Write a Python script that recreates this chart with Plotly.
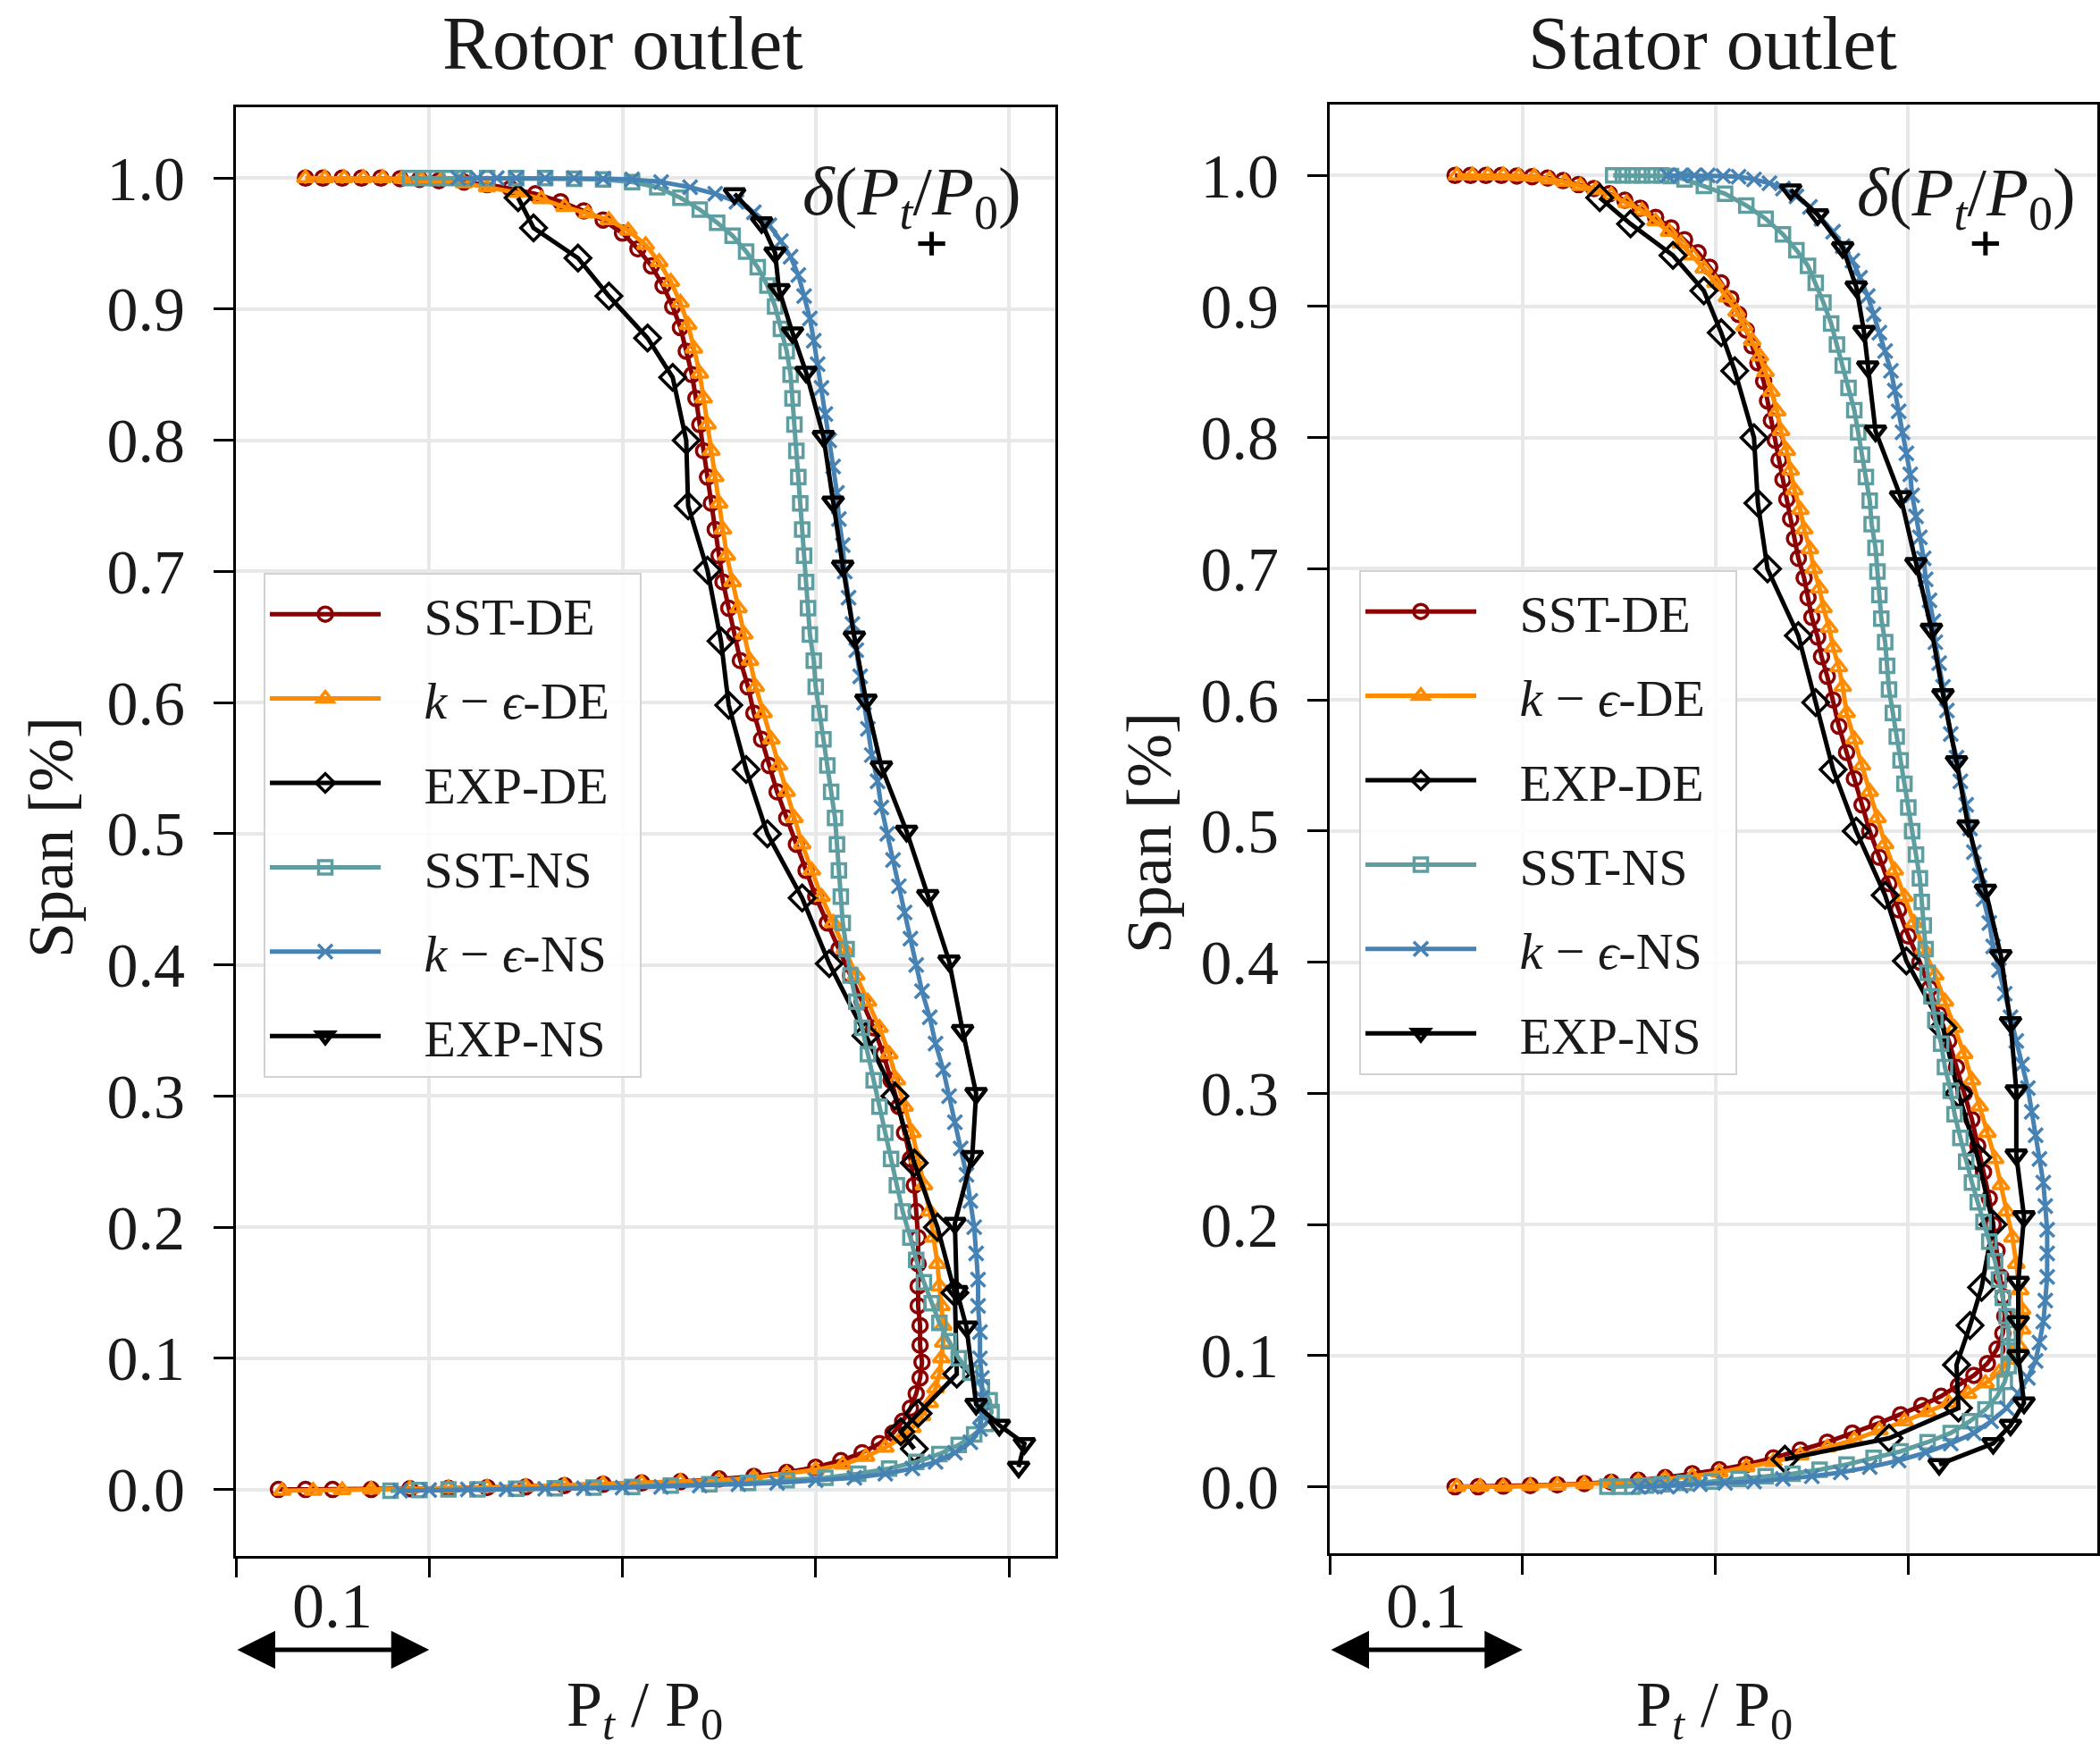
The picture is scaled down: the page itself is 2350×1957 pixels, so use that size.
import plotly.graph_objects as go

# ---------------- data (x = P_t/P_0 relative offset, y = span) ----------------
rotor_sst_de_x = [0.036,0.045,0.055,0.065,0.075,0.085,0.095,0.105,0.118,0.130,0.142,0.155,0.168,0.180,0.190,0.200,0.208,0.215,0.221,0.226,0.230,0.233,0.236,0.238,0.240,0.242,0.244,0.246,0.248,0.250,0.252,0.255,0.258,0.261,0.265,0.268,0.272,0.276,0.280,0.285,0.290,0.295,0.300,0.306,0.312,0.318,0.324,0.330,0.335,0.339,0.343,0.346,0.349,0.351,0.352,0.353,0.353,0.353,0.353,0.354,0.354,0.355,0.354,0.352,0.349,0.345,0.340,0.333,0.324,0.313,0.300,0.285,0.268,0.250,0.230,0.210,0.190,0.170,0.150,0.130,0.110,0.090,0.070,0.050,0.036,0.022]
rotor_sst_de_y = [1.000,1.000,1.000,1.000,1.000,0.9995,0.999,0.998,0.997,0.995,0.992,0.988,0.982,0.975,0.968,0.958,0.946,0.933,0.918,0.902,0.886,0.868,0.850,0.832,0.812,0.792,0.772,0.752,0.732,0.712,0.692,0.672,0.652,0.632,0.612,0.592,0.572,0.552,0.532,0.512,0.492,0.472,0.452,0.432,0.412,0.392,0.372,0.352,0.332,0.312,0.292,0.272,0.252,0.232,0.212,0.192,0.172,0.155,0.140,0.125,0.110,0.097,0.085,0.073,0.062,0.052,0.043,0.035,0.028,0.022,0.017,0.013,0.010,0.008,0.006,0.005,0.004,0.003,0.002,0.0015,0.001,0.0005,0.0,0.0,0.0,0.0]

rotor_ke_de_x = [0.036,0.046,0.056,0.066,0.076,0.086,0.096,0.106,0.118,0.130,0.145,0.158,0.170,0.182,0.193,0.203,0.212,0.219,0.225,0.230,0.234,0.237,0.240,0.242,0.244,0.246,0.248,0.250,0.252,0.254,0.257,0.260,0.263,0.266,0.269,0.273,0.277,0.281,0.285,0.289,0.293,0.298,0.303,0.309,0.315,0.321,0.327,0.333,0.338,0.342,0.346,0.350,0.353,0.356,0.359,0.361,0.363,0.364,0.365,0.366,0.366,0.365,0.364,0.362,0.359,0.355,0.350,0.344,0.336,0.326,0.314,0.300,0.285,0.268,0.250,0.230,0.210,0.190,0.170,0.150,0.130,0.110,0.090,0.070,0.055,0.040,0.024]
rotor_ke_de_y = [1.0,1.0,1.0,1.0,1.0,0.9995,0.999,0.998,0.996,0.993,0.989,0.984,0.978,0.973,0.968,0.960,0.949,0.936,0.921,0.905,0.888,0.870,0.851,0.832,0.812,0.792,0.772,0.752,0.732,0.712,0.692,0.672,0.652,0.632,0.612,0.592,0.572,0.552,0.532,0.512,0.492,0.472,0.452,0.432,0.412,0.392,0.372,0.352,0.332,0.312,0.292,0.272,0.252,0.232,0.212,0.192,0.172,0.155,0.140,0.125,0.112,0.100,0.088,0.077,0.066,0.056,0.047,0.039,0.032,0.025,0.019,0.015,0.012,0.009,0.007,0.006,0.005,0.004,0.003,0.002,0.0015,0.001,0.0005,0.0,-0.0005,-0.001,-0.001]

rotor_exp_de_x = [0.146,0.154,0.177,0.193,0.213,0.226,0.233,0.234,0.244,0.251,0.255,0.264,0.275,0.293,0.307,0.326,0.341,0.351,0.363,0.372,0.373,0.353,0.344,0.351]
rotor_exp_de_y = [0.985,0.962,0.939,0.910,0.878,0.848,0.800,0.750,0.701,0.647,0.598,0.549,0.500,0.451,0.401,0.346,0.300,0.249,0.200,0.150,0.088,0.058,0.044,0.031]

rotor_sst_ns_x = [0.090,0.097,0.104,0.111,0.118,0.130,0.145,0.160,0.175,0.190,0.205,0.218,0.230,0.240,0.249,0.257,0.264,0.270,0.275,0.279,0.282,0.285,0.287,0.288,0.289,0.290,0.291,0.292,0.293,0.294,0.295,0.296,0.297,0.299,0.300,0.302,0.304,0.306,0.308,0.310,0.311,0.312,0.313,0.314,0.316,0.318,0.321,0.324,0.327,0.330,0.333,0.336,0.339,0.342,0.345,0.349,0.352,0.356,0.360,0.364,0.369,0.374,0.380,0.386,0.390,0.391,0.388,0.382,0.374,0.364,0.352,0.338,0.322,0.305,0.285,0.265,0.245,0.225,0.205,0.185,0.165,0.145,0.125,0.110,0.095,0.080]
rotor_sst_ns_y = [1.0,1.0,1.0,1.0,1.0,1.0,1.0,1.0,0.9995,0.999,0.997,0.993,0.985,0.976,0.966,0.956,0.944,0.932,0.918,0.902,0.885,0.868,0.850,0.832,0.812,0.792,0.772,0.752,0.732,0.712,0.692,0.672,0.652,0.632,0.612,0.592,0.572,0.552,0.532,0.512,0.492,0.472,0.452,0.432,0.412,0.392,0.372,0.352,0.332,0.312,0.292,0.272,0.252,0.232,0.212,0.192,0.175,0.158,0.142,0.127,0.113,0.100,0.089,0.078,0.068,0.059,0.050,0.042,0.034,0.027,0.021,0.016,0.012,0.009,0.007,0.005,0.004,0.003,0.002,0.0015,0.001,0.0005,0.0,0.0,-0.0005,-0.001]

rotor_ke_ns_x = [0.115,0.125,0.135,0.145,0.160,0.175,0.190,0.205,0.220,0.235,0.248,0.259,0.268,0.276,0.282,0.287,0.291,0.294,0.297,0.299,0.301,0.303,0.305,0.307,0.309,0.311,0.312,0.314,0.315,0.317,0.319,0.321,0.323,0.325,0.327,0.329,0.332,0.334,0.337,0.340,0.343,0.346,0.349,0.352,0.355,0.359,0.362,0.366,0.369,0.372,0.375,0.378,0.380,0.382,0.383,0.384,0.384,0.385,0.385,0.386,0.386,0.386,0.385,0.380,0.372,0.362,0.350,0.336,0.320,0.300,0.280,0.260,0.240,0.220,0.200,0.180,0.160,0.140,0.120,0.100,0.085]
rotor_ke_ns_y = [1.0,1.0,1.0,1.0,1.0,1.0,0.9995,0.999,0.997,0.993,0.988,0.982,0.974,0.964,0.952,0.940,0.926,0.910,0.893,0.876,0.858,0.840,0.820,0.800,0.780,0.760,0.740,0.720,0.700,0.680,0.660,0.640,0.620,0.600,0.580,0.560,0.540,0.520,0.500,0.480,0.460,0.440,0.420,0.400,0.380,0.360,0.340,0.320,0.300,0.280,0.260,0.240,0.220,0.200,0.180,0.160,0.140,0.120,0.100,0.085,0.070,0.057,0.046,0.036,0.028,0.021,0.016,0.012,0.009,0.007,0.005,0.004,0.003,0.002,0.0015,0.001,0.0005,0.0,0.0,-0.0005,-0.001]

rotor_exp_ns_x = [0.258,0.272,0.279,0.281,0.288,0.295,0.304,0.309,0.314,0.320,0.326,0.334,0.347,0.358,0.369,0.376,0.383,0.381,0.372,0.373,0.378,0.383,0.395,0.408,0.405]
rotor_exp_ns_y = [0.988,0.966,0.943,0.915,0.882,0.852,0.803,0.753,0.704,0.650,0.602,0.551,0.502,0.453,0.403,0.350,0.302,0.254,0.203,0.151,0.124,0.065,0.049,0.035,0.017]

stator_sst_de_x = [0.065,0.073,0.081,0.089,0.097,0.105,0.113,0.121,0.129,0.137,0.145,0.153,0.161,0.169,0.177,0.184,0.191,0.197,0.203,0.208,0.212,0.216,0.219,0.222,0.225,0.227,0.229,0.231,0.233,0.235,0.237,0.239,0.241,0.243,0.246,0.248,0.250,0.253,0.255,0.258,0.261,0.264,0.268,0.272,0.276,0.280,0.285,0.290,0.295,0.300,0.306,0.311,0.316,0.321,0.325,0.329,0.333,0.336,0.339,0.342,0.344,0.346,0.348,0.349,0.350,0.349,0.346,0.341,0.334,0.326,0.317,0.307,0.296,0.284,0.271,0.258,0.244,0.230,0.216,0.202,0.188,0.174,0.160,0.146,0.132,0.118,0.104,0.090,0.077,0.065]
stator_sst_de_y = [1.0,1.0,1.0,1.0,0.9995,0.999,0.998,0.996,0.993,0.990,0.986,0.981,0.975,0.968,0.960,0.951,0.941,0.930,0.918,0.906,0.894,0.882,0.870,0.857,0.843,0.828,0.813,0.798,0.783,0.768,0.753,0.738,0.723,0.708,0.693,0.678,0.663,0.648,0.633,0.618,0.600,0.580,0.560,0.540,0.520,0.500,0.480,0.460,0.440,0.420,0.400,0.380,0.360,0.340,0.320,0.300,0.280,0.260,0.240,0.220,0.200,0.180,0.160,0.145,0.130,0.117,0.105,0.094,0.085,0.077,0.069,0.062,0.055,0.048,0.041,0.034,0.028,0.022,0.017,0.013,0.010,0.007,0.005,0.0035,0.0025,0.0015,0.001,0.0005,0.0,0.0]

stator_ke_de_x = [0.066,0.074,0.082,0.090,0.098,0.106,0.114,0.122,0.130,0.138,0.146,0.154,0.162,0.169,0.176,0.182,0.188,0.194,0.200,0.206,0.211,0.215,0.219,0.223,0.226,0.229,0.232,0.234,0.237,0.239,0.241,0.244,0.246,0.249,0.251,0.254,0.256,0.259,0.261,0.264,0.266,0.268,0.272,0.276,0.280,0.284,0.288,0.293,0.298,0.303,0.308,0.314,0.319,0.324,0.329,0.333,0.337,0.341,0.345,0.348,0.351,0.354,0.356,0.358,0.359,0.359,0.357,0.353,0.347,0.340,0.331,0.321,0.310,0.298,0.285,0.272,0.258,0.244,0.230,0.216,0.202,0.188,0.174,0.160,0.146,0.132,0.118,0.104,0.090,0.078,0.066]
stator_ke_de_y = [1.0,1.0,1.0,1.0,0.9995,0.999,0.997,0.995,0.992,0.989,0.985,0.979,0.973,0.965,0.957,0.948,0.939,0.929,0.918,0.907,0.896,0.885,0.874,0.862,0.850,0.835,0.820,0.805,0.790,0.775,0.760,0.745,0.730,0.715,0.700,0.685,0.670,0.655,0.640,0.625,0.610,0.590,0.570,0.550,0.530,0.510,0.490,0.470,0.450,0.430,0.410,0.390,0.370,0.350,0.330,0.310,0.290,0.270,0.250,0.230,0.210,0.190,0.170,0.150,0.135,0.120,0.108,0.097,0.087,0.079,0.071,0.064,0.057,0.050,0.043,0.036,0.030,0.024,0.019,0.015,0.011,0.008,0.006,0.004,0.003,0.002,0.001,0.0005,0.0,0.0,0.0]

stator_exp_de_x = [0.140,0.156,0.178,0.194,0.203,0.210,0.220,0.222,0.227,0.243,0.252,0.261,0.273,0.288,0.299,0.318,0.326,0.336,0.344,0.338,0.332,0.325,0.326,0.290,0.236]
stator_exp_de_y = [0.983,0.963,0.939,0.912,0.880,0.851,0.800,0.750,0.700,0.649,0.598,0.547,0.500,0.451,0.401,0.350,0.300,0.251,0.200,0.152,0.123,0.093,0.060,0.037,0.021]

stator_sst_ns_x = [0.147,0.152,0.157,0.162,0.167,0.172,0.177,0.184,0.194,0.205,0.216,0.226,0.235,0.242,0.248,0.252,0.256,0.260,0.263,0.266,0.269,0.272,0.274,0.276,0.278,0.280,0.281,0.283,0.284,0.285,0.286,0.288,0.289,0.290,0.292,0.294,0.296,0.298,0.300,0.302,0.304,0.306,0.307,0.308,0.309,0.310,0.312,0.314,0.317,0.319,0.322,0.324,0.327,0.330,0.333,0.336,0.339,0.342,0.345,0.347,0.349,0.351,0.352,0.352,0.352,0.350,0.346,0.340,0.332,0.322,0.310,0.296,0.282,0.268,0.254,0.240,0.226,0.212,0.198,0.184,0.172,0.164,0.157,0.150,0.144]
stator_sst_ns_y = [1.0,1.0,1.0,1.0,1.0,1.0,0.9995,0.997,0.992,0.986,0.977,0.967,0.955,0.943,0.931,0.918,0.903,0.887,0.871,0.855,0.838,0.821,0.804,0.787,0.770,0.752,0.734,0.716,0.698,0.680,0.662,0.644,0.626,0.608,0.590,0.572,0.554,0.536,0.518,0.500,0.482,0.464,0.446,0.428,0.410,0.392,0.374,0.356,0.338,0.320,0.302,0.284,0.266,0.248,0.232,0.217,0.202,0.187,0.172,0.158,0.144,0.130,0.117,0.104,0.092,0.080,0.069,0.059,0.050,0.041,0.034,0.027,0.022,0.017,0.013,0.010,0.008,0.006,0.004,0.003,0.002,0.001,0.0,0.0,0.0]

stator_ke_ns_x = [0.175,0.182,0.189,0.196,0.204,0.212,0.220,0.228,0.235,0.242,0.249,0.255,0.261,0.266,0.271,0.275,0.279,0.282,0.285,0.288,0.291,0.293,0.295,0.297,0.299,0.301,0.302,0.304,0.306,0.308,0.309,0.311,0.313,0.314,0.316,0.318,0.320,0.322,0.325,0.327,0.330,0.332,0.334,0.337,0.339,0.342,0.344,0.347,0.350,0.353,0.356,0.359,0.362,0.364,0.366,0.368,0.370,0.371,0.372,0.372,0.372,0.371,0.370,0.368,0.366,0.362,0.357,0.351,0.343,0.334,0.322,0.309,0.295,0.280,0.265,0.250,0.235,0.220,0.205,0.192,0.182,0.175,0.167,0.160]
stator_ke_ns_y = [1.0,1.0,1.0,1.0,0.9995,0.999,0.997,0.994,0.990,0.984,0.976,0.967,0.957,0.946,0.935,0.922,0.908,0.894,0.880,0.866,0.851,0.836,0.820,0.804,0.788,0.772,0.756,0.740,0.724,0.708,0.692,0.676,0.660,0.644,0.628,0.610,0.592,0.574,0.556,0.538,0.520,0.502,0.484,0.466,0.448,0.430,0.412,0.394,0.376,0.358,0.340,0.322,0.304,0.286,0.268,0.250,0.232,0.214,0.196,0.178,0.160,0.142,0.126,0.110,0.096,0.083,0.071,0.060,0.050,0.041,0.033,0.026,0.020,0.015,0.011,0.008,0.006,0.004,0.003,0.002,0.001,0.0,0.0,0.0]

stator_exp_ns_x = [0.239,0.253,0.266,0.273,0.277,0.279,0.283,0.296,0.304,0.312,0.318,0.325,0.331,0.340,0.348,0.353,0.356,0.356,0.360,0.357,0.357,0.357,0.360,0.353,0.344,0.316]
stator_exp_ns_y = [0.989,0.970,0.945,0.915,0.881,0.854,0.805,0.755,0.704,0.654,0.604,0.553,0.504,0.455,0.405,0.354,0.302,0.253,0.206,0.156,0.126,0.100,0.064,0.047,0.033,0.017]

# measurement uncertainty marker delta(Pt/P0): position and half widths
rotor_err_x, rotor_err_y = [0.360], [0.950]
stator_err_x, stator_err_y = [0.340], [0.948]
err_dx, err_dy = [0.007], [0.009]

series_names = ["SST-DE", "<i>k</i> − <i>ϵ</i>-DE", "EXP-DE", "SST-NS", "<i>k</i> − <i>ϵ</i>-NS", "EXP-NS"]
span_ticks = [0.0, 0.1, 0.2, 0.3, 0.4, 0.5, 0.6, 0.7, 0.8, 0.9, 1.0]
span_labels = ["0.0", "0.1", "0.2", "0.3", "0.4", "0.5", "0.6", "0.7", "0.8", "0.9", "1.0"]
panel_titles = ["Rotor outlet", "Stator outlet"]

# ---------------- styles ----------------
FONT = "Liberation Serif"
TXT = "#1a1a1a"
W, H = 2350, 1957
GAP = "\u00a0\u00a0\u00a0"
TAIL = "\u00a0\u00a0"
styles = [
    dict(color="#8B0000", symbol="circle-open", size=16, mlw=3.5),
    dict(color="#FF8C00", symbol="triangle-up-open", size=16, mlw=3.5),
    dict(color="#000000", symbol="diamond-open", size=22, mlw=3.5),
    dict(color="#5F9EA0", symbol="square-open", size=15, mlw=3.5),
    dict(color="#4682B4", symbol="x-thin-open", size=16, mlw=3.5),
    dict(color="#000000", symbol="triangle-down-open", size=20, mlw=4.5),
]

panels = [
    dict(xs=[rotor_sst_de_x, rotor_ke_de_x, rotor_exp_de_x, rotor_sst_ns_x, rotor_ke_ns_x, rotor_exp_ns_x],
         ys=[rotor_sst_de_y, rotor_ke_de_y, rotor_exp_de_y, rotor_sst_ns_y, rotor_ke_ns_y, rotor_exp_ns_y],
         xa="x", ya="y", leg="legend", ex=rotor_err_x, ey=rotor_err_y),
    dict(xs=[stator_sst_de_x, stator_ke_de_x, stator_exp_de_x, stator_sst_ns_x, stator_ke_ns_x, stator_exp_ns_x],
         ys=[stator_sst_de_y, stator_ke_de_y, stator_exp_de_y, stator_sst_ns_y, stator_ke_ns_y, stator_exp_ns_y],
         xa="x2", ya="y2", leg="legend2", ex=stator_err_x, ey=stator_err_y),
]

fig = go.Figure()
for p in panels:
    for i, (xs, ys) in enumerate(zip(p["xs"], p["ys"])):
        assert len(xs) == len(ys), (p["leg"], i, len(xs), len(ys))
        st = styles[i]
        fig.add_trace(go.Scatter(
            x=xs, y=ys, mode="lines+markers", name=GAP + series_names[i] + TAIL,
            line=dict(color=st["color"], width=5),
            marker=dict(symbol=st["symbol"], size=st["size"], color=st["color"],
                        line=dict(color=st["color"], width=st["mlw"])),
            xaxis=p["xa"], yaxis=p["ya"], legend=p["leg"],
            legendgroup=p["leg"] + str(i), cliponaxis=False,
        ))
    fig.add_trace(go.Scatter(
        x=p["ex"], y=p["ey"], mode="markers", showlegend=False,
        marker=dict(size=1, color="black"),
        error_x=dict(type="data", array=err_dx, width=0, thickness=5, color="black"),
        error_y=dict(type="data", array=err_dy, width=0, thickness=5, color="black"),
        xaxis=p["xa"], yaxis=p["ya"],
    ))

def xaxis(domain, rng, anchor):
    return dict(domain=domain, range=rng, anchor=anchor, tick0=0, dtick=0.1,
                showticklabels=False, ticks="outside", ticklen=21, tickwidth=2.5,
                tickcolor="black", showgrid=True, gridcolor="#e8e8e8", gridwidth=4,
                showline=True, linecolor="black", linewidth=3, mirror=True, zeroline=False)

def yaxis(domain, anchor):
    return dict(domain=domain, range=[-0.0507, 1.054], anchor=anchor,
                tickmode="array", tickvals=span_ticks, ticktext=span_labels,
                ticks="outside", ticklen=22, tickwidth=2.5, tickcolor="black",
                tickfont=dict(family=FONT, size=70, color=TXT), ticklabelstandoff=18,
                showgrid=True, gridcolor="#e8e8e8", gridwidth=4,
                showline=True, linecolor="black", linewidth=3, mirror=True, zeroline=False)

def legend(x, y):
    return dict(x=x, y=y, xanchor="left", yanchor="top",
                font=dict(family=FONT, size=58, color=TXT),
                bgcolor="rgba(255,255,255,0.85)", bordercolor="#d2d2d2", borderwidth=2,
                itemwidth=124, tracegroupgap=16)

annotations = []
title_x = [697 / W, 1916 / W]
ylab_x = [57 / W, 1286 / W]
ylab_y = [1 - 937 / H, 1 - 932 / H]
xlab_x = [721 / W, 1918 / W]
delta_pos = [(0.350, 0.986), (0.330, 0.9835)]
for k, (xr, yr) in enumerate([("x", "y"), ("x2", "y2")]):
    annotations.append(dict(text=panel_titles[k], x=title_x[k], y=1 - 48 / H, xref="paper", yref="paper",
                            xanchor="center", yanchor="middle",
                            showarrow=False, font=dict(family=FONT, size=84, color=TXT)))
    annotations.append(dict(text="Span [%]", x=ylab_x[k], y=ylab_y[k], xref="paper", yref="paper",
                            xanchor="center", yanchor="middle",
                            textangle=-90, showarrow=False, font=dict(family=FONT, size=72, color=TXT)))
    annotations.append(dict(text="P<sub><i>t</i></sub> / P<sub>0</sub>", x=xlab_x[k], y=1 - 1912 / H,
                            xref="paper", yref="paper", xanchor="center", yanchor="middle",
                            showarrow=False, font=dict(family=FONT, size=72, color=TXT)))
    annotations.append(dict(text="<i>δ</i>(<i>P</i><sub><i>t</i></sub>/<i>P</i><sub>0</sub>)",
                            x=delta_pos[k][0], y=delta_pos[k][1], xref=xr, yref=yr,
                            xanchor="center", yanchor="middle",
                            showarrow=False, font=dict(family=FONT, size=77, color=TXT)))
    annotations.append(dict(text="0.1", x=0.05, y=1 - 1797 / H, xref=xr, yref="paper",
                            xanchor="center", yanchor="middle",
                            showarrow=False, font=dict(family=FONT, size=72, color=TXT)))
    annotations.append(dict(text="", x=0.1, y=1 - 1846 / H, xref=xr, yref="paper",
                            ax=0.0, ay=0, axref=xr, ayref="pixel", showarrow=True,
                            arrowhead=2, arrowsize=1.7, arrowwidth=5, arrowcolor="black",
                            arrowside="end+start", startarrowhead=2, startarrowsize=1.7))

fig.update_layout(
    width=W, height=H, margin=dict(l=0, r=0, t=0, b=0),
    paper_bgcolor="white", plot_bgcolor="white",
    xaxis=xaxis([264 / W, 1181 / W], [0, 0.424], "y"),
    yaxis=yaxis([1 - 1741 / H, 1 - 120 / H], "x"),
    xaxis2=xaxis([1488 / W, 2347 / W], [0, 0.398], "y2"),
    yaxis2=yaxis([1 - 1738 / H, 1 - 117 / H], "x2"),
    legend=legend(295 / W, 1 - 641 / H),
    legend2=legend(1521 / W, 1 - 638 / H),
    annotations=annotations,
    font=dict(family=FONT, color=TXT),
)

fig.write_html("out.html")
